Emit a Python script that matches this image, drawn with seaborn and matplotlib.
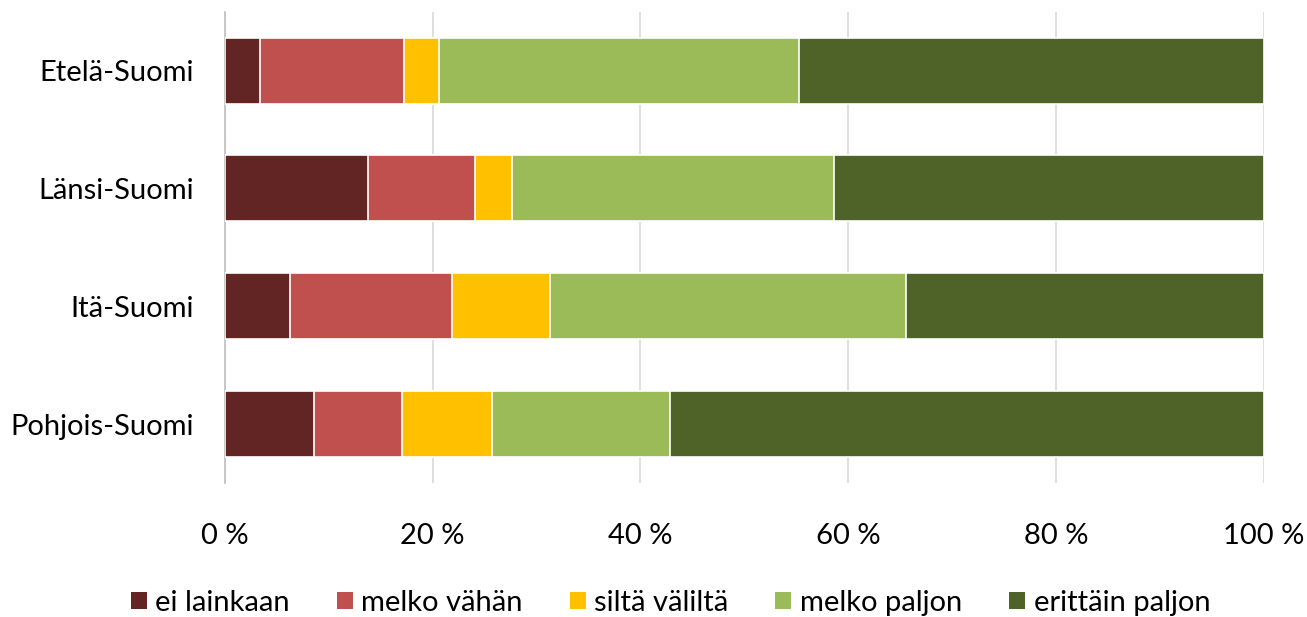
import numpy as np
import pandas as pd
import matplotlib
matplotlib.use('Agg')
import matplotlib.pyplot as plt
import seaborn as sns
from matplotlib.patches import Patch

# data (percent of answers per region)
regions = ['Etelä-Suomi', 'Länsi-Suomi', 'Itä-Suomi', 'Pohjois-Suomi']
categories = ['ei lainkaan', 'melko vähän', 'siltä väliltä', 'melko paljon', 'erittäin paljon']
ei_lainkaan = [3.4, 13.8, 6.3, 8.6]
melko_vahan = [13.8, 10.3, 15.6, 8.5]
silta_valilta = [3.4, 3.5, 9.4, 8.6]
melko_paljon = [34.65, 31.05, 34.3, 17.15]
erittain_paljon = [44.75, 41.35, 34.4, 57.15]
xticks = [0, 20, 40, 60, 80, 100]
xticklabels = ['0 %', '20 %', '40 %', '60 %', '80 %', '100 %']

colors = ['#632523', '#C0504D', '#FFC000', '#9BBB59', '#4F6228']

sns.set_style('white')
plt.rcParams['font.family'] = ['Lato', 'DejaVu Sans']
plt.rcParams['text.color'] = 'black'
plt.rcParams['xtick.color'] = 'black'
plt.rcParams['ytick.color'] = 'black'

df = pd.DataFrame({'region': regions,
                   categories[0]: ei_lainkaan,
                   categories[1]: melko_vahan,
                   categories[2]: silta_valilta,
                   categories[3]: melko_paljon,
                   categories[4]: erittain_paljon})
cum = df[categories].cumsum(axis=1)

fig, ax = plt.subplots(figsize=(13.07, 6.17), dpi=100)
fig.subplots_adjust(left=0.172, right=0.967, top=0.981, bottom=0.217)

# stacked bars: draw cumulative totals from the back to the front
for cat, col in reversed(list(zip(categories, colors))):
    sns.barplot(x=cum[cat], y=df['region'], orient='h', color=col, saturation=1,
                width=0.56, edgecolor='white', linewidth=1.2, ax=ax, zorder=3)

ax.set_xlim(0, 100)
ax.set_ylim(3.5, -0.5)
ax.set_xticks(xticks)
ax.set_xticklabels(xticklabels, fontsize=21)
ax.tick_params(axis='x', length=0, pad=29)
ax.tick_params(axis='y', length=0, pad=22, labelsize=21)
ax.set_xlabel('')
ax.set_ylabel('')
ax.grid(axis='x', color='#d9d9d9', linewidth=1.2, zorder=0)
ax.set_axisbelow(True)
for s in ['top', 'right', 'bottom']:
    ax.spines[s].set_visible(False)
ax.spines['left'].set_color('#bfbfbf')
ax.spines['left'].set_linewidth(1.2)

handles = [Patch(facecolor=c, edgecolor='none') for c in colors]
fig.legend(handles, categories, loc='center', bbox_to_anchor=(0.513, 0.023),
           ncol=5, frameon=False, fontsize=21, handlelength=0.55, handleheight=0.55,
           handletextpad=0.3, columnspacing=1.6)

fig.savefig('out.png', dpi=100)
